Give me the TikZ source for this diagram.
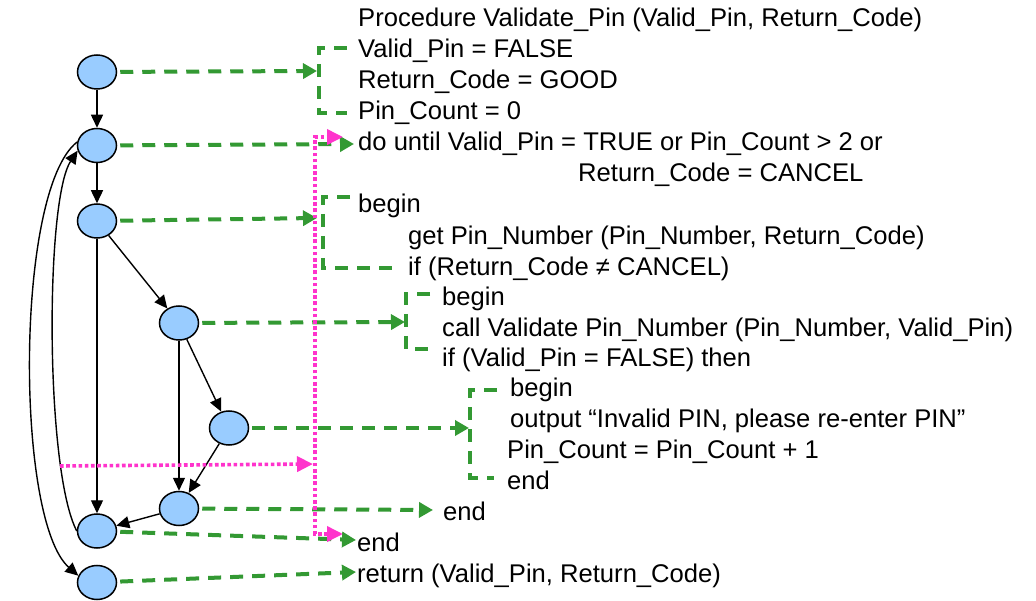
\documentclass[tikz,border=0pt]{standalone}
\usepackage{fontspec}
\setmainfont{Liberation Sans}
\usetikzlibrary{positioning,shapes.geometric,arrows.meta}
\definecolor{nodeblue}{RGB}{153,204,255}
\definecolor{mapgreen}{RGB}{51,153,51}
\definecolor{loopink}{RGB}{255,51,204}

\begin{document}
\begin{tikzpicture}[x=1pt, y=-1pt,
	every node/.style={font=\fontsize{25.6pt}{31pt}\selectfont},
	block/.style={ellipse, draw, fill=nodeblue,
				  line width=1.5pt,
				  minimum width=39pt, minimum height=34pt,
				  inner sep=0pt
	},
	code/.style={anchor=base west, inner sep=0pt},
	edge/.style={black, line width=1.4pt, -{Triangle[length=13pt,width=12pt]}},
	map/.style={mapgreen, line width=4pt, dash pattern=on 13pt off 9pt,
				shorten <=3pt, -{Triangle[length=14pt,width=15pt]}},
	bracket/.style={mapgreen, line width=4pt, dash pattern=on 13pt off 9pt},
	back/.style={loopink, line width=3.6pt, dash pattern=on 3.6pt off 2.6pt,
				 -{Triangle[length=16pt,width=15pt]}}
]
	\useasboundingbox (0,0) rectangle (1036,601);
	% flow graph
	\node (entry) [block] at (97,72) {};
	\node (doloop) [block, below=38pt of entry] {};
	\node (getpin) [block, below=40pt of doloop] {};
	\node (ifcancel) [block] at (179,323) {};
	\node (ifvalid) [block] at (229,428) {};
	\node (endif) [block, below=150pt of ifcancel] {};
	\node (enddo) [block] at (97,531) {};
	\node (exit) [block, below=16pt of enddo] {};

	\draw[edge] (entry) -- (doloop);
	\draw[edge] (doloop) -- (getpin);
	\draw[edge] (getpin) -- (ifcancel);
	\draw[edge] (getpin) -- (enddo);
	\draw[edge] (ifcancel) -- (ifvalid);
	\draw[edge] (ifcancel) -- (endif);
	\draw[edge] (ifvalid) -- (endif);
	\draw[edge] (endif) -- (enddo);
	\draw[edge] (enddo.west) .. controls (45,470) and (45,200) .. (doloop.195);
	\draw[edge] (doloop.170) .. controls (15,190) and (15,520) .. (exit.160);

	% code
	\node (tproc) [code] at (358,26.2) {Procedure Validate\_Pin (Valid\_Pin, Return\_Code)};
	\node (tvalid) [code] at (358,57.2) {Valid\_Pin = FALSE};
	\node (trc) [code] at (358,88.2) {Return\_Code = GOOD};
	\node (tcount) [code] at (358,119.2) {Pin\_Count = 0};
	\node (tdo) [code] at (358,150.2) {do until Valid\_Pin = TRUE or Pin\_Count > 2 or};
	\node (tdocond) [code] at (578,181.2) {Return\_Code = CANCEL};
	\node (tbegin1) [code] at (358,212.2) {begin};
	\node (tget) [code] at (408,244.2) {get Pin\_Number (Pin\_Number, Return\_Code)};
	\node (tif1) [code] at (408,275.2) {if (Return\_Code ≠ CANCEL)};
	\node (tbegin2) [code] at (442,305.2) {begin};
	\node (tcall) [code] at (442,336.2) {call Validate Pin\_Number (Pin\_Number, Valid\_Pin)};
	\node (tif2) [code] at (442,366.2) {if (Valid\_Pin = FALSE) then};
	\node (tbegin3) [code] at (510,396.2) {begin};
	\node (tout) [code] at (510,427.2) {output “Invalid PIN, please re-enter PIN”};
	\node (tinc) [code] at (507,458.2) {Pin\_Count = Pin\_Count + 1};
	\node (tend3) [code] at (507,489.2) {end};
	\node (tend2) [code] at (443,520.2) {end};
	\node (tend1) [code] at (357,551.2) {end};
	\node (tret) [code] at (357,582.2) {return (Valid\_Pin, Return\_Code)};

	% mapping
	\coordinate (minit) at (317,71);
	\coordinate (mdo) at (354,144);
	\coordinate (mbegin1) at (317,218);
	\coordinate (mbegin2) at (405,322);
	\coordinate (mbegin3) at (469,428);
	\coordinate (mend2) at (433,510);
	\coordinate (mend1) at (356,540);
	\coordinate (mret) at (356,572);
	\draw[map] (entry) -- (minit);
	\draw[map] (doloop) -- (mdo);
	\draw[map] (getpin) -- (mbegin1);
	\draw[map] (ifcancel) -- (mbegin2);
	\draw[map] (ifvalid) -- (mbegin3);
	\draw[map] (endif) -- (mend2);
	\draw[map] (enddo) -- (mend1);
	\draw[map] (exit) -- (mret);
	\draw[bracket] (347,48) -- (319,48) -- (319,113) -- (347,113);
	\draw[bracket] (350,197) -- (323,197) -- (323,268) -- (399,268);
	\draw[bracket] (430,294) -- (406,294) -- (406,349) -- (430,349);
	\draw[bracket] (497,390) -- (470,390) -- (470,478) -- (494,478);

	% loop back
	\coordinate (lfrom) at (60,466);
	\coordinate (lto) at (313,464);
	\coordinate (lend) at (343,534);
	\coordinate (lbot) at (315,534);
	\coordinate (ltop) at (315,137);
	\coordinate (ldo) at (343,137);
	\draw[back] (lfrom) -- (lto);
	\draw[back, {Triangle[length=16pt,width=15pt]}-{Triangle[length=16pt,width=15pt]}] (lend) -- (lbot) -- (ltop) -- (ldo);

\end{tikzpicture}
\end{document}
